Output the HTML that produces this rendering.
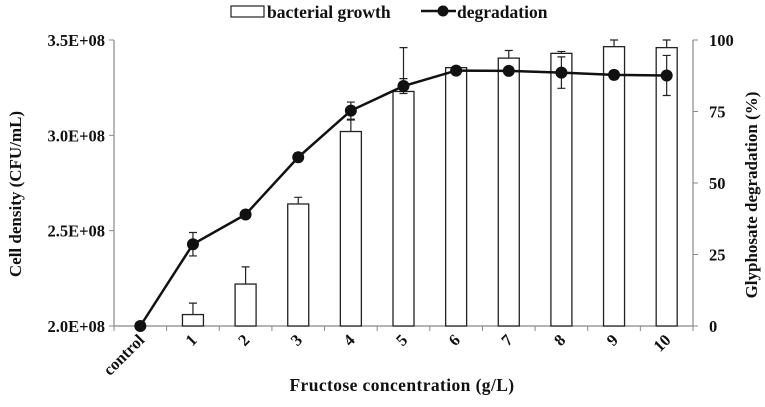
<!DOCTYPE html>
<html><head><meta charset="utf-8"><style>
body{margin:0;background:#fff}
svg text{font-family:"Liberation Serif",serif;font-weight:bold;fill:#111}
</style></head><body>
<svg id="chart" width="765" height="402" viewBox="0 0 765 402" xmlns="http://www.w3.org/2000/svg">
<g id="legend">
<rect x="231" y="6" width="33" height="11" fill="#fff" stroke="#222" stroke-width="1.2"/>
<text x="267" y="18" font-size="17.5">bacterial growth</text>
<line x1="421" y1="11" x2="456" y2="11" stroke="#111" stroke-width="2.5"/>
<circle cx="443" cy="11" r="5.5" fill="#111"/>
<text x="457" y="18" font-size="17.5">degradation</text>
</g>
<g id="plot"></g>
<text transform="translate(21,194) rotate(-90)" text-anchor="middle" font-size="17">Cell density (CFU/mL)</text>
<text transform="translate(757,195) rotate(-90)" text-anchor="middle" font-size="17">Glyphosate degradation (%)</text>
<text x="402" y="391" text-anchor="middle" font-size="17.5" letter-spacing="0.4">Fructose concentration (g/L)</text>
</svg>
<script>
const categories=["control","1","2","3","4","5","6","7","8","9","10"];
const growth=[null,2.06e8,2.22e8,2.64e8,3.02e8,3.23e8,3.355e8,3.405e8,3.43e8,3.465e8,3.46e8];
const growthErr=[null,0.06e8,0.09e8,0.035e8,0.06e8,0.23e8,0.005e8,0.04e8,0.01e8,0.035e8,0.04e8];
const degradation=[0,28.6,39.0,59.0,75.3,83.9,89.3,89.2,88.6,87.8,87.6];
const degErr=[0,4.1,0,1.5,3,2.6,1,1,5.5,1.5,7];
const leftTicks=[2.0e8,2.5e8,3.0e8,3.5e8];
const leftTickLabels=["2.0E+08","2.5E+08","3.0E+08","3.5E+08"];
const rightTicks=[0,25,50,75,100];

const NS="http://www.w3.org/2000/svg";
const g=document.getElementById('plot');
const X0=114,X1=693,Y0=326,Y1=40;
const band=(X1-X0)/categories.length;
const xC=i=>X0+band*(i+0.5);
const yL=v=>Y0-(v-2e8)/(1.5e8)*(Y0-Y1);
const yR=v=>Y0-v/100*(Y0-Y1);
function el(t,a){const e=document.createElementNS(NS,t);for(const k in a)e.setAttribute(k,a[k]);g.appendChild(e);return e;}
let ax=el('line',{x1:X0,y1:Y1,x2:X0,y2:Y0,stroke:'#888','stroke-width':1.2});


ax=el('line',{x1:X1,y1:Y1,x2:X1,y2:Y0,stroke:'#888','stroke-width':1.2});


ax=el('line',{x1:X0,y1:Y0,x2:X1,y2:Y0,stroke:'#888','stroke-width':1.2});


leftTicks.forEach((v,i)=>{
 const t=el('line',{x1:X0-5,y1:yL(v),x2:X0,y2:yL(v),stroke:'#888'});
 
 
 const l=el('text',{x:X0-9,y:yL(v)+6,'text-anchor':'end','font-size':16.5});
 l.textContent=leftTickLabels[i];
 
 
});
rightTicks.forEach(v=>{
 const t=el('line',{x1:X1,y1:yR(v),x2:X1+5,y2:yR(v),stroke:'#888'});
 
 
 const l=el('text',{x:X1+16,y:yR(v)+6,'text-anchor':'start','font-size':16.5});
 l.textContent=v;
 
 
});
for(let i=0;i<=categories.length;i++){
 const t=el('line',{x1:X0+band*i,y1:Y0,x2:X0+band*i,y2:Y0+5,stroke:'#888'});
 
 
}
categories.forEach((c,i)=>{
 const x=xC(i)+5,y=Y0+15;
 const l=el('text',{x:x,y:y,'text-anchor':'end','font-size':16.5,transform:`rotate(-45 ${x} ${y})`});
 l.textContent=c;
 
 
});
const bw=21;
growth.forEach((v,i)=>{
 if(v==null)return;
 const b=el('rect',{x:xC(i)-bw/2,y:yL(v),width:bw,height:Y0-yL(v),fill:'#fff',stroke:'#222','stroke-width':1.3});
 
 
 const e=growthErr[i];
 if(e){
  const p=el('path',{d:`M${xC(i)},${yL(v)}V${yL(v+e)}M${xC(i)-4},${yL(v+e)}H${xC(i)+4}`,stroke:'#222','stroke-width':1.2,fill:'none'});
  
  
 }
});
const pl=el('polyline',{points:degradation.map((v,i)=>xC(i)+','+yR(v)).join(' '),fill:'none',stroke:'#111','stroke-width':2.5});


degradation.forEach((v,i)=>{
 const e=degErr[i];
 if(e){
  const p=el('path',{d:`M${xC(i)},${yR(v+e)}V${yR(v-e)}M${xC(i)-4},${yR(v+e)}H${xC(i)+4}M${xC(i)-4},${yR(v-e)}H${xC(i)+4}`,stroke:'#222','stroke-width':1.2,fill:'none'});
  
  
 }
 const c=el('circle',{cx:xC(i),cy:yR(v),r:6,fill:'#111'});
 
 
});
</script>
</body></html>
